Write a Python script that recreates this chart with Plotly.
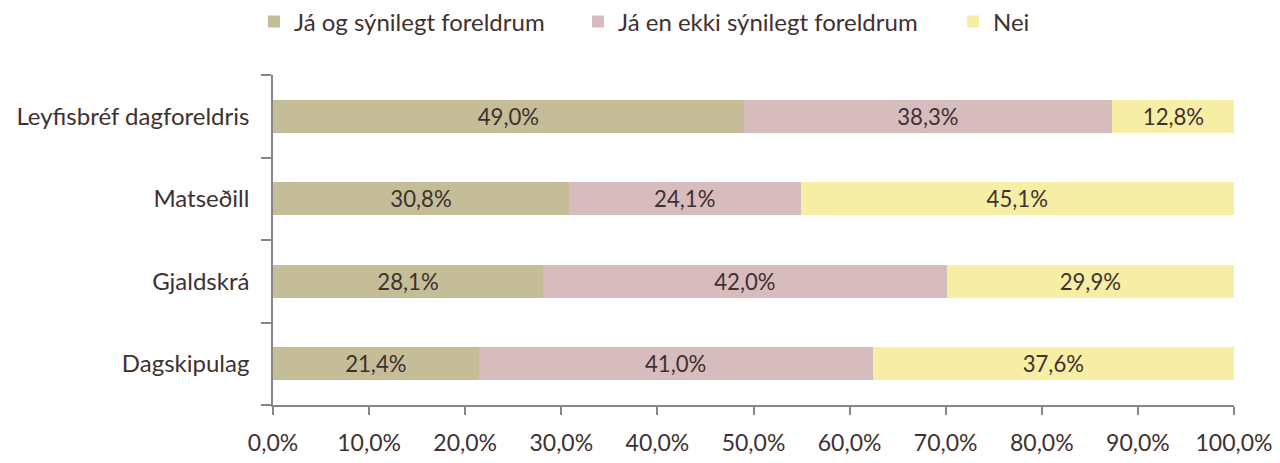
import plotly.graph_objects as go

categories = ["Leyfisbréf dagforeldris", "Matseðill", "Gjaldskrá", "Dagskipulag"]
series_names = ["Já og sýnilegt foreldrum", "Já en ekki sýnilegt foreldrum", "Nei"]
ja_synilegt = [49.0, 30.8, 28.1, 21.4]
ja_ekki = [38.3, 24.1, 42.0, 41.0]
nei = [12.8, 45.1, 29.9, 37.6]
tick_vals = [0, 10, 20, 30, 40, 50, 60, 70, 80, 90, 100]
tick_text = ["0,0%", "10,0%", "20,0%", "30,0%", "40,0%", "50,0%", "60,0%", "70,0%", "80,0%", "90,0%", "100,0%"]

colors = ["#C4BD97", "#D7BCBE", "#F7EEA6"]
text_color = "#3F3130"
font_family = "Lato, 'Open Sans', sans-serif"
legend_ids = ["legend", "legend2", "legend3"]
legend_x = [246, 570, 945]

fig = go.Figure()
for name, vals, col, lid in zip(series_names, [ja_synilegt, ja_ekki, nei], colors, legend_ids):
    fig.add_trace(go.Bar(
        y=categories, x=[v / 100 for v in vals], name=name, orientation="h",
        marker=dict(color=col, line=dict(width=0)),
        text=[f"{v:.1f}%".replace(".", ",") for v in vals],
        textposition="inside", insidetextanchor="middle",
        textfont=dict(size=23, color=text_color, family=font_family),
        hoverinfo="skip", legend=lid,
    ))

fig.update_layout(
    barmode="stack",
    bargap=0.6,
    width=1280, height=463,
    margin=dict(l=265, r=54, t=67, b=66),
    paper_bgcolor="white", plot_bgcolor="white",
    font=dict(family=font_family, color=text_color, size=23),
    uniformtext=dict(minsize=10, mode="show"),
    showlegend=True,
)
for lid, lx in zip(legend_ids, legend_x):
    fig.update_layout({lid: dict(
        orientation="h", x=lx / 1280, xanchor="left", xref="container",
        y=1 - 14 / 463, yanchor="middle", yref="container",
        font=dict(size=24, color=text_color, family=font_family),
        itemwidth=30, bgcolor="rgba(0,0,0,0)",
    )})

fig.update_xaxes(
    range=[0, 1], tickvals=[v / 100 for v in tick_vals], ticktext=tick_text,
    showgrid=False, zeroline=False, showline=True, linecolor="#868686", linewidth=1.5,
    ticks="outside", ticklen=8, tickcolor="#868686", tickwidth=1.5,
    ticklabelstandoff=9, tickfont=dict(size=23, color=text_color), automargin=False,
)
fig.update_yaxes(
    categoryorder="array", categoryarray=categories[::-1],
    showgrid=False, zeroline=False, showline=True, linecolor="#868686", linewidth=1.5,
    ticks="outside", tickson="boundaries", ticklen=10, tickcolor="#868686", tickwidth=1.5,
    tickfont=dict(size=24, color=text_color), ticklabelstandoff=17, automargin=False,
)

fig.write_html("out.html")
